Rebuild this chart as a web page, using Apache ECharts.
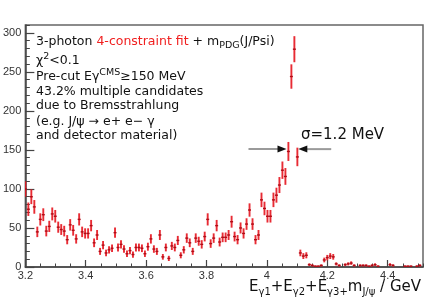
<!DOCTYPE html>
<html><head><meta charset="utf-8">
<script src="https://cdn.jsdelivr.net/npm/echarts@6/dist/echarts.min.js"></script>
<style>html,body{margin:0;padding:0;background:#fff}#c{width:426px;height:300px}</style>
</head><body><div id="c"></div>
<script>
// ---- data ----
const binStart = 3.2;      // centre of first bin [GeV]
const binWidth = 0.0099;   // bin width [GeV]
const counts = [
  100, 74, 90, 77, 45, 61, 67, 46, 52, 68,
  65, 51, 48, 46, 35, 54, 47, 36, 61, 45,
  43, 43, 53, 31, 41, 20, 28, 18, 22, 24,
  44, 25, 29, 23, 17, 21, 16, 25, 25, 24,
  17, 26, 36, 23, 20, 41, 13, 25, 11, 27,
  25, 34, 15, 22, 37, 31, 20, 37, 33, 29,
  39, 61, 30, 37, 53, 32, 38, 38, 41, 58,
  39, 35, 50, 43, 55, 73, 55, 35, 41, 86,
  75, 65, 65, 86, 92, 105, 124, 116, 148, 244,
  279, 141, 18, 14, 15, 3, 2, 1, 1, 2,
  9, 12, 14, 13, 4, 2, 0, 3, 4, 5,
  2, 0, 2, 2, 2, 1, 2, 3, 1, 0,
  0, 0, 3, 2, 0, 0, 0, 1, 1, 1,
  0, 1, 2
];
const xRange = [3.2, 4.517];
const yRange = [0, 310];
const xTickStep = 0.2, xMinorStep = 0.05;
const yTickStep = 50, yMinorStep = 10;
// sigma arrows (data coordinates)
const arrowY = 151;
const leftArrow = [3.939, 4.065];
const rightArrow = [4.213, 4.104];

const RED = 'rgba(230,20,30,0.9)';
const points = [];
counts.forEach((n, i) => { if (n > 0) points.push([binStart + i * binWidth, n, Math.sqrt(n)]); });

const chart = echarts.init(document.getElementById('c'), null, {renderer: 'canvas'});
const axisCol = '#444';
const lblFont = {fontFamily: 'Liberation Sans', fontSize: 11, color: '#333'};

const option = {
  animation: false,
  backgroundColor: '#fff',
  grid: {left: 24, right: 3, top: 25, bottom: 33, show: true, borderColor: '#666', borderWidth: 1.5, containLabel: false},
  xAxis: [
    {type: 'value', min: xRange[0], max: xRange[1], interval: xTickStep, position: 'bottom',
     axisLine: {show: true, onZero: false, lineStyle: {color: axisCol, width: 1.5}},
     axisTick: {show: true, inside: true, length: 7, lineStyle: {color: axisCol, width: 1.2}},
     axisLabel: Object.assign({margin: 3, showMaxLabel: false}, lblFont),
     splitLine: {show: false}},
    {type: 'value', min: xRange[0], max: xRange[1], interval: xMinorStep, position: 'bottom',
     axisLine: {show: false, onZero: false},
     axisTick: {show: true, inside: true, length: 3.5, lineStyle: {color: axisCol, width: 1}},
     axisLabel: {show: false}, splitLine: {show: false}}
  ],
  yAxis: [
    {type: 'value', min: yRange[0], max: yRange[1], interval: yTickStep, position: 'left',
     axisLine: {show: true, onZero: false, lineStyle: {color: axisCol, width: 1.5}},
     axisTick: {show: true, inside: true, length: 9, lineStyle: {color: axisCol, width: 1.2}},
     axisLabel: Object.assign({margin: 4, showMaxLabel: false}, lblFont),
     splitLine: {show: false}},
    {type: 'value', min: yRange[0], max: yRange[1], interval: yMinorStep, position: 'left',
     axisLine: {show: false, onZero: false},
     axisTick: {show: true, inside: true, length: 4.5, lineStyle: {color: axisCol, width: 1}},
     axisLabel: {show: false}, splitLine: {show: false}}
  ],
  series: [{
    type: 'custom', xAxisIndex: 0, yAxisIndex: 0, clip: true,
    data: points,
    renderItem: function (params, api) {
      const x = api.value(0), y = api.value(1), e = api.value(2);
      const c = api.coord([x, y]);
      const t = api.coord([x, y + e]);
      const b = api.coord([x, y - e]);
      const l = api.coord([x - binWidth / 2, y]);
      const r = api.coord([x + binWidth / 2, y]);
      return {type: 'group', children: [
        {type: 'line', shape: {x1: c[0], y1: t[1], x2: c[0], y2: b[1]}, style: {stroke: RED, lineWidth: 1.9}},
        {type: 'line', shape: {x1: l[0], y1: c[1], x2: r[0], y2: c[1]}, style: {stroke: '#b00c16', lineWidth: 1.4}}
      ]};
    }
  }]
};
chart.setOption(option);

// ---- annotations ----
const F = 'DejaVu Sans';
const richBase = {
  n: {fill: '#111', fontFamily: F, fontSize: 12.5, lineHeight: 18},
  r: {fill: '#f02020', fontFamily: F, fontSize: 12.5, lineHeight: 18},
  sub: {fill: '#111', fontFamily: F, fontSize: 9.5, lineHeight: 8, verticalAlign: 'bottom'},
  sup: {fill: '#111', fontFamily: F, fontSize: 9.5, lineHeight: 8, verticalAlign: 'top'}
};
function txt(text, x, y, extra) {
  return Object.assign({type: 'text', silent: true, z: 10,
    style: {text: text, x: x, y: y, rich: richBase, fill: '#111', font: '12.5px "DejaVu Sans"', verticalAlign: 'middle', align: 'left'}}, extra || {});
}
const lines = [
  ['{n|3-photon }{r|4-constraint fit}{n| + m}{sub|PDG}{n|(J/Psi)}', 41.5],
  ['{n|χ}{sup|2}{n|<0.1}', 60.5],
  ['{n|Pre-cut Eγ}{sup|CMS}{n|≥150 MeV}', 76.5],
  ['{n|43.2% multiple candidates}', 91.5],
  ['{n|due to Bremsstrahlung}', 106],
  ['{n|(e.g. J/ψ → e+ e− γ}', 121.5],
  ['{n|and detector material)}', 136]
];
const graphics = lines.map(l => txt(l[0], 36, l[1]));

// sigma label
graphics.push({type: 'text', silent: true, z: 10,
  style: {text: 'σ=1.2 MeV', x: 301, y: 135, fill: '#111', font: '15px "DejaVu Sans"', verticalAlign: 'middle'}});

// x axis title
const richT = {
  n: {fill: '#111', fontFamily: F, fontSize: 15, lineHeight: 20},
  s: {fill: '#111', fontFamily: F, fontSize: 10, lineHeight: 10, verticalAlign: 'bottom'}
};
graphics.push({type: 'text', silent: true, z: 10,
  style: {text: '{n|E}{s|γ1}{n|+E}{s|γ2}{n|+E}{s|γ3+}{n|m}{s|J/ψ}{n| / GeV}', x: 421, y: 287, rich: richT,
          align: 'right', verticalAlign: 'middle', font: '15px "DejaVu Sans"'}});

// sigma arrows
function P(x, y) { return chart.convertToPixel({xAxisIndex: 0, yAxisIndex: 0}, [x, y]); }
function arrow(fromX, toX) {
  const a = P(fromX, arrowY), b = P(toX, arrowY);
  const dir = b[0] > a[0] ? 1 : -1;
  const hl = 9, hw = 3.5;
  graphics.push({type: 'line', silent: true, z: 9,
    shape: {x1: a[0], y1: a[1], x2: b[0] - dir * hl * 0.6, y2: b[1]}, style: {stroke: '#9a9a9a', lineWidth: 2}});
  graphics.push({type: 'polygon', silent: true, z: 9,
    shape: {points: [[b[0], b[1]], [b[0] - dir * hl, b[1] - hw], [b[0] - dir * hl, b[1] + hw]]}, style: {fill: '#111'}});
}
arrow(leftArrow[0], leftArrow[1]);
arrow(rightArrow[0], rightArrow[1]);

chart.setOption({graphic: graphics});
</script></body></html>
